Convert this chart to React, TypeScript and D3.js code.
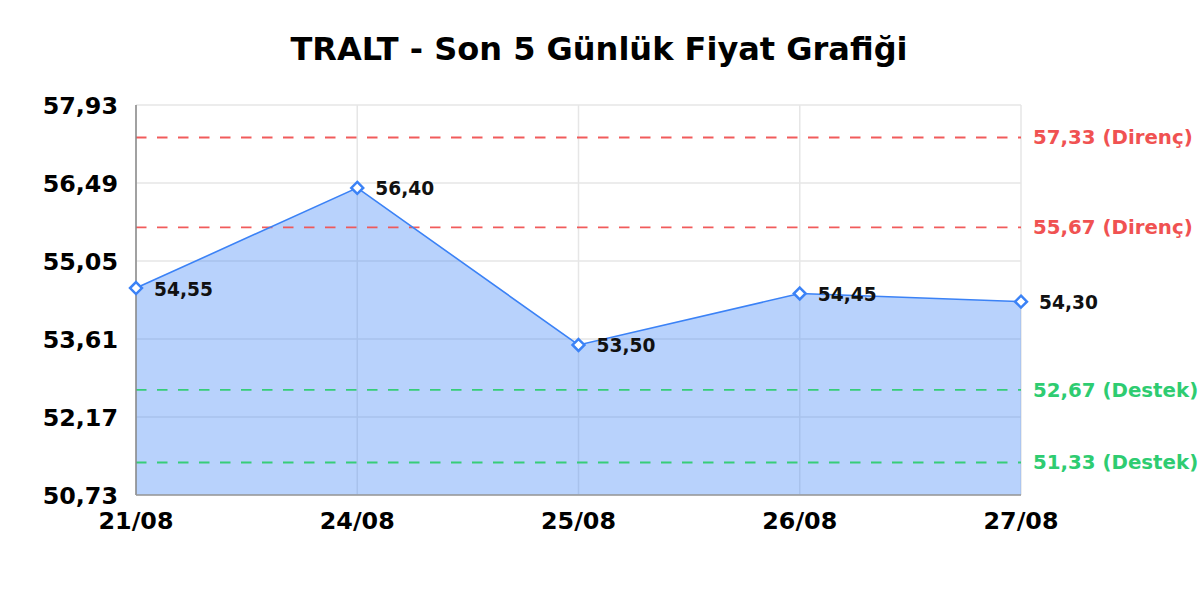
import React from 'react';
import * as d3 from 'd3';

const title = 'TRALT - Son 5 Günlük Fiyat Grafiği';
const dates = ['21/08', '24/08', '25/08', '26/08', '27/08'];
const prices = [54.55, 56.4, 53.5, 54.45, 54.3];
const yTicks = [50.73, 52.17, 53.61, 55.05, 56.49, 57.93];
const resistances = [57.33, 55.67];
const supports = [52.67, 51.33];

const fmt = (v: number) => v.toFixed(2).replace('.', ',');

const Chart: React.FC<{ width: number; height: number }> = ({ width, height }) => {
    const svgRef = React.useRef(null);

    const render = React.useCallback(() => {
        const svg = d3.select(svgRef.current);
        svg.selectAll('*').remove();
        svg.attr('width', width).attr('height', height);

        const margin = { top: 105, right: 179, bottom: 105, left: 136 };
        const x = d3.scalePoint().domain(dates).range([margin.left, width - margin.right]);
        const y = d3.scaleLinear()
            .domain([yTicks[0], yTicks[yTicks.length - 1]])
            .range([height - margin.bottom, margin.top]);
        const font = '"DejaVu Sans", Verdana, sans-serif';

        svg.append('rect').attr('width', width).attr('height', height).attr('fill', '#fff');

        svg.append('text')
            .text(title)
            .attr('x', width / 2 - 1)
            .attr('y', 60)
            .attr('text-anchor', 'middle')
            .attr('font-family', font)
            .attr('font-weight', 'bold')
            .attr('font-size', 32)
            .attr('fill', '#000');

        // grid
        const grid = svg.append('g').attr('stroke', '#e6e6e6').attr('stroke-width', 1.5);
        grid.selectAll('line.h')
            .data(yTicks)
            .join('line')
            .attr('x1', margin.left).attr('x2', width - margin.right)
            .attr('y1', d => y(d)).attr('y2', d => y(d));
        grid.selectAll('line.v')
            .data(dates)
            .join('line')
            .attr('class', 'v')
            .attr('x1', d => x(d)!).attr('x2', d => x(d)!)
            .attr('y1', margin.top).attr('y2', height - margin.bottom);

        // area + line
        const pts = dates.map((d, i) => [x(d)!, y(prices[i])] as [number, number]);
        const area = d3.area<[number, number]>()
            .x(d => d[0])
            .y0(y(yTicks[0]))
            .y1(d => d[1]);
        svg.append('path')
            .attr('d', area(pts))
            .attr('fill', '#3b82f6')
            .attr('fill-opacity', 0.36);

        // levels
        const levels = [
            ...resistances.map(v => ({ v, label: `${fmt(v)} (Direnç)`, color: '#f05252' })),
            ...supports.map(v => ({ v, label: `${fmt(v)} (Destek)`, color: '#2ecc71' }))
        ];
        const lv = svg.selectAll('g.level').data(levels).join('g').attr('class', 'level');
        lv.append('line')
            .attr('x1', margin.left).attr('x2', width - margin.right)
            .attr('y1', d => y(d.v)).attr('y2', d => y(d.v))
            .attr('stroke', d => d.color)
            .attr('stroke-opacity', 0.95)
            .attr('stroke-width', 1.8)
            .attr('stroke-dasharray', '10.5,10.5');
        lv.append('text')
            .text(d => d.label)
            .attr('x', width - margin.right + 12)
            .attr('y', d => y(d.v))
            .attr('dy', '0.35em')
            .attr('font-family', font)
            .attr('font-weight', 'bold')
            .attr('font-size', 19.8)
            .attr('fill', d => d.color);

        svg.append('path')
            .attr('d', d3.line()(pts))
            .attr('fill', 'none')
            .attr('stroke', '#3b82f6')
            .attr('stroke-width', 1.6);

        // axes lines
        svg.append('line')
            .attr('x1', margin.left).attr('x2', margin.left)
            .attr('y1', margin.top).attr('y2', height - margin.bottom)
            .attr('stroke', '#888').attr('stroke-width', 1.5);
        svg.append('line')
            .attr('x1', margin.left).attr('x2', width - margin.right)
            .attr('y1', height - margin.bottom).attr('y2', height - margin.bottom)
            .attr('stroke', '#999').attr('stroke-width', 1.5);

        // markers
        svg.selectAll('path.marker')
            .data(pts)
            .join('path')
            .attr('class', 'marker')
            .attr('d', d3.symbol(d3.symbolDiamond2, 90)())
            .attr('transform', d => `translate(${d[0]},${d[1]})`)
            .attr('fill', '#fff')
            .attr('stroke', '#3b82f6')
            .attr('stroke-width', 2.5);

        // data labels
        svg.selectAll('text.val')
            .data(pts)
            .join('text')
            .attr('class', 'val')
            .text((_, i) => fmt(prices[i]))
            .attr('x', d => d[0] + 18)
            .attr('y', d => d[1])
            .attr('dy', '0.4em')
            .attr('font-family', font)
            .attr('font-weight', 'bold')
            .attr('font-size', 18.6)
            .attr('fill', '#111');

        // tick labels
        svg.selectAll('text.ytick')
            .data(yTicks)
            .join('text')
            .attr('class', 'ytick')
            .text(d => fmt(d))
            .attr('x', margin.left - 18)
            .attr('y', d => y(d))
            .attr('dy', '0.36em')
            .attr('text-anchor', 'end')
            .attr('font-family', font)
            .attr('font-weight', 'bold')
            .attr('font-size', 23.8)
            .attr('fill', '#000');
        svg.selectAll('text.xtick')
            .data(dates)
            .join('text')
            .attr('class', 'xtick')
            .text(d => d)
            .attr('x', d => x(d)!)
            .attr('y', height - margin.bottom + 34)
            .attr('text-anchor', 'middle')
            .attr('font-family', font)
            .attr('font-weight', 'bold')
            .attr('font-size', 23.8)
            .attr('fill', '#000');
    }, [width, height]);

    React.useEffect(() => {
        render();
    }, [render]);

    return <svg ref={svgRef} style={{ position: 'absolute', left: 0, top: 0 }} />;
};

export default function App() {
    return <Chart width={1200} height={600} />;
}
